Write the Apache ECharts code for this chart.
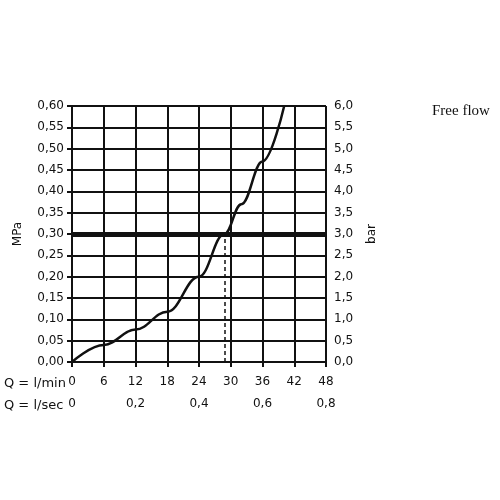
<!DOCTYPE html><html><head><meta charset="utf-8"><script src="https://cdn.jsdelivr.net/npm/echarts@6/dist/echarts.min.js"></script></head><body style="margin:0;background:#fff"><div id="c" style="width:500px;height:500px"></div><script>
const flow=[0,6,12,18,24,28.8,32,36,40.1];
const pressure=[0,0.04,0.076,0.118,0.2,0.3,0.37,0.47,0.6];
const secLabels={0:'0',12:'0,2',24:'0,4',36:'0,6',48:'0,8'};
const c=echarts.init(document.getElementById('c'));
const f='DejaVu Sans';
c.setOption({animation:false,
grid:{left:72,right:174,top:106,bottom:138},
xAxis:[{type:'value',min:0,max:48,interval:6,axisLine:{show:true,lineStyle:{color:'#111',width:2}},splitLine:{lineStyle:{color:'#111',width:2}},axisTick:{show:true,length:5,lineStyle:{color:'#111',width:2}},axisLabel:{color:'#111',fontFamily:f,fontSize:12,margin:14}},
{type:'value',position:'bottom',offset:26,min:0,max:48,interval:12,axisLine:{show:false},axisTick:{show:false},splitLine:{show:false},axisLabel:{color:'#111',fontFamily:f,fontSize:12,margin:10,formatter:v=>secLabels[v]}}],
yAxis:[{type:'value',min:0,max:0.6,interval:0.05,name:'MPa',nameLocation:'middle',nameGap:48,nameTextStyle:{fontFamily:f,fontSize:12,color:'#111'},axisLine:{show:true,lineStyle:{color:'#111',width:2}},axisTick:{show:true,length:5,lineStyle:{color:'#111',width:2}},splitLine:{lineStyle:{color:'#111',width:2}},axisLabel:{color:'#111',fontFamily:f,fontSize:12,formatter:v=>v.toFixed(2).replace('.',',')}},
{type:'value',min:0,max:6,interval:0.5,name:'bar',nameLocation:'middle',nameGap:40,nameTextStyle:{fontFamily:f,fontSize:12,color:'#111'},axisLine:{show:true,lineStyle:{color:'#111',width:2}},axisTick:{show:true,length:5,lineStyle:{color:'#111',width:2}},splitLine:{show:false},axisLabel:{color:'#111',fontFamily:f,fontSize:12,formatter:v=>v.toFixed(1).replace('.',',')}}],
graphic:[{type:'text',left:4,top:377,style:{text:'Q = l/min',font:'13px DejaVu Sans',fill:'#111'}},{type:'text',left:4,top:399,style:{text:'Q = l/sec',font:'13px DejaVu Sans',fill:'#111'}},{type:'text',left:432,top:104,style:{text:'Free flow',font:'15px "Liberation Serif"',fill:'#111'}}],
series:[{type:'line',data:flow.map((x,i)=>[x,pressure[i]]),smooth:0.4,smoothMonotone:'x',symbol:'none',lineStyle:{color:'#111',width:2.5},
markLine:{silent:true,symbol:'none',label:{show:false},data:[{yAxis:0.3,lineStyle:{color:'#111',width:5,type:'solid'}},[{coord:[28.8,0],lineStyle:{color:'#111',width:1.5,type:[4,3]}},{coord:[28.8,0.3]}]]}}]});
</script></body></html>
